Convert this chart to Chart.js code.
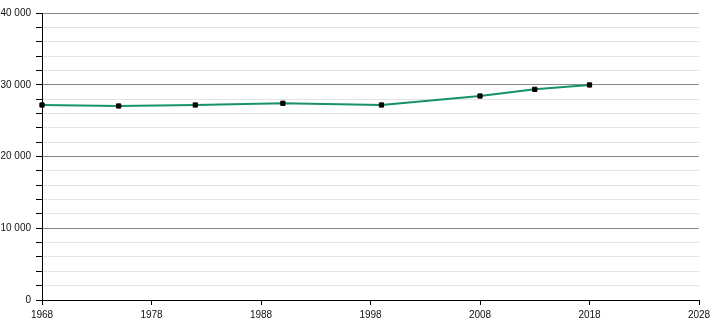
<!DOCTYPE html>
<html>
<head>
<meta charset="utf-8">
<script src="https://cdn.jsdelivr.net/npm/chart.js@4/dist/chart.umd.min.js"></script>
<style>
  html, body { margin: 0; padding: 0; background: #fff; }
  #wrap { width: 710px; height: 320px; }
</style>
</head>
<body>
<div id="wrap"><canvas id="graphCanvas" width="710" height="320"></canvas></div>
<script>
// census years and population
var years = [1968, 1975, 1982, 1990, 1999, 2008, 2013, 2018];
var population = [27180, 27040, 27180, 27420, 27180, 28430, 29360, 29970];
var yTickLabels = [0, 10000, 20000, 30000, 40000];
var xTickLabels = [1968, 1978, 1988, 1998, 2008, 2018, 2028];

function formatNombre(v) {
    return String(v).replace(/\B(?=(\d{3})+(?!\d))/g, ' ');
}

var points = [];
for (var i in years) {
    points.push({ x: years[i], y: population[i] });
}

var chartdata = {
    datasets: [{
        label: 'Population',
        data: points,
        borderColor: '#17906c',
        borderWidth: 2,
        backgroundColor: '#000',
        pointBackgroundColor: '#000',
        pointBorderColor: '#000',
        pointBorderWidth: 1,
        pointStyle: 'rect',
        pointRadius: 3,
        tension: 0,
        clip: false
    }]
};

var graphTarget = document.getElementById('graphCanvas');

var lineGraph = new Chart(graphTarget, {
    type: 'line',
    data: chartdata,
    options: {
        responsive: false,
        animation: false,
        layout: { padding: { top: 13, right: 11, left: 0, bottom: 0 } },
        plugins: { legend: { display: false }, tooltip: { enabled: false } },
        scales: {
            x: {
                type: 'linear',
                min: xTickLabels[0],
                max: xTickLabels[xTickLabels.length - 1],
                afterBuildTicks: function (axis) {
                    axis.ticks = xTickLabels.map(function (v) { return { value: v }; });
                },
                afterFit: function (axis) {
                    axis.height = 20;
                    axis.paddingLeft = 0;
                    axis.paddingRight = 0;
                },
                border: { color: '#000', width: 1 },
                grid: { drawOnChartArea: false, drawTicks: true, tickLength: 5, tickColor: '#000' },
                ticks: {
                    padding: 4,
                    maxRotation: 0,
                    color: '#111',
                    font: { family: 'Liberation Sans, Arial, sans-serif', size: 10 },
                    callback: function (v) { return String(v); }
                }
            },
            y: {
                min: 0,
                max: 40000,
                afterBuildTicks: function (axis) {
                    var t = [];
                    for (var v = 0; v <= 40000; v += 2000) t.push({ value: v });
                    axis.ticks = t;
                },
                afterFit: function (axis) {
                    axis.width = 42;
                    axis.paddingTop = 0;
                    axis.paddingBottom = 0;
                },
                border: { color: '#000', width: 1 },
                grid: {
                    color: function (ctx) {
                        if (ctx.tick && yTickLabels.indexOf(ctx.tick.value) >= 0) return '#8a8a8a';
                        return '#e4e4e4';
                    },
                    tickColor: '#000',
                    tickLength: 6,
                    lineWidth: 1
                },
                ticks: {
                    padding: 5,
                    color: '#111',
                    autoSkip: false,
                    font: { family: 'Liberation Sans, Arial, sans-serif', size: 10 },
                    callback: function (v) {
                        return yTickLabels.indexOf(v) >= 0 ? formatNombre(v) : '';
                    }
                }
            }
        }
    }
});
</script>
</body>
</html>
